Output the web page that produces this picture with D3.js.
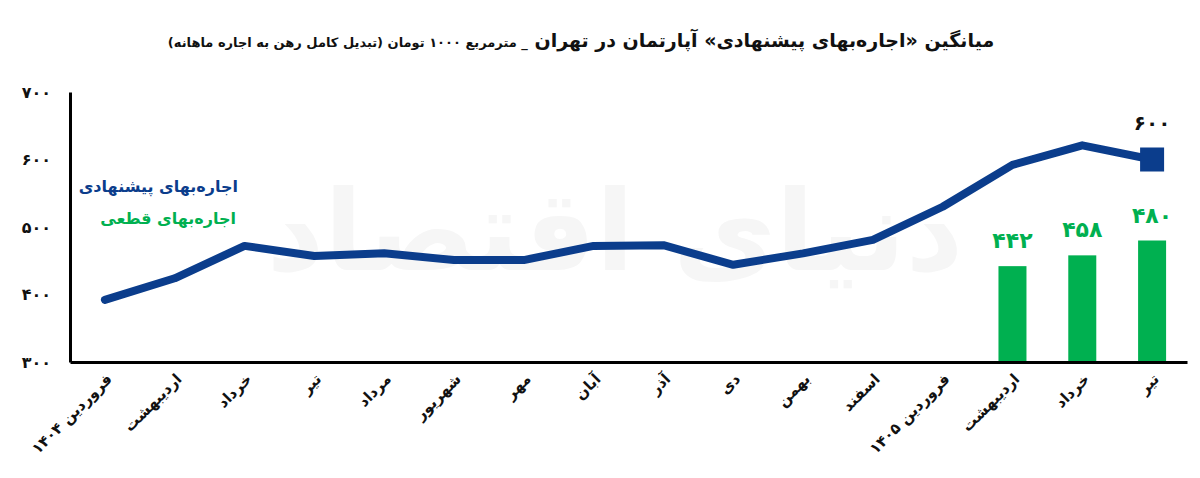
<!DOCTYPE html>
<html>
<head>
<meta charset="utf-8">
<script src="https://cdn.jsdelivr.net/npm/d3@7"></script>
<style>
  body { margin: 0; background: #fff; }
  text { font-family: "DejaVu Sans", sans-serif; font-weight: bold; }
</style>
</head>
<body>
<svg width="1200" height="478"></svg>
<script>
  // months from farvardin 1404 to tir 1405
  const months = ["فروردین ۱۴۰۴", "اردیبهشت", "خرداد", "تیر", "مرداد", "شهریور", "مهر", "آبان",
    "آذر", "دی", "بهمن", "اسفند", "فروردین ۱۴۰۵", "اردیبهشت", "خرداد", "تیر"];
  // asking rent (1000 toman per m2)
  const asking = [392, 424, 472, 457, 461, 451, 451, 472, 473, 444, 461, 481, 530, 592, 621, 600];
  // final rent, only for the last three months
  const finalIdx = [13, 14, 15];
  const finalVals = [442, 458, 480];
  const yTicks = [300, 400, 500, 600, 700];

  const blue = "#0b3d8c";
  const green = "#00b050";

  const fa = (n) => String(n).replace(/\d/g, (d) => "۰۱۲۳۴۵۶۷۸۹"[d]);

  const svg = d3.select("svg");

  const x = d3.scaleBand()
    .domain(d3.range(months.length))
    .range([70, 1187]);

  const y = d3.scaleLinear()
    .domain([300, 700])
    .range([362, 92]);

  // faint logo watermark
  svg.append("text")
    .attr("x", 615).attr("y", 270)
    .attr("text-anchor", "middle")
    .attr("font-size", 112)
    .attr("fill", "#f6f6f6")
    .text("دنیای اقتصاد");

  // title
  const title = svg.append("text")
    .attr("x", 581).attr("y", 47)
    .attr("direction", "rtl")
    .attr("text-anchor", "middle")
    .attr("fill", "#111");
  title.append("tspan").attr("font-size", 19)
    .text("میانگین «اجاره‌بهای پیشنهادی» آپارتمان در تهران ");
  title.append("tspan").attr("font-size", 13)
    .text("_ مترمربع ۱۰۰۰ تومان (تبدیل کامل رهن به اجاره ماهانه)");

  // y axis
  const yAxis = svg.append("g")
    .attr("transform", "translate(70,0)")
    .call(d3.axisLeft(y).tickValues(yTicks).tickFormat(fa).tickSize(0).tickPadding(19));
  yAxis.select(".domain").attr("stroke", "#000").attr("stroke-width", 3);
  yAxis.selectAll("text").attr("font-size", 16).attr("fill", "#111");

  // bars
  svg.selectAll("rect.bar")
    .data(finalVals)
    .enter()
    .append("rect")
    .attr("class", "bar")
    .attr("x", (d, i) => x(finalIdx[i]) + x.bandwidth() / 2 - 14)
    .attr("width", 28)
    .attr("y", (d) => y(d))
    .attr("height", (d) => y(300) - y(d))
    .attr("fill", green);

  svg.selectAll("text.barlabel")
    .data(finalVals)
    .enter()
    .append("text")
    .attr("class", "barlabel")
    .attr("x", (d, i) => x(finalIdx[i]) + x.bandwidth() / 2)
    .attr("y", (d) => y(d) - 18)
    .attr("text-anchor", "middle")
    .attr("font-size", 22)
    .attr("fill", green)
    .text(fa);

  // x axis
  const xAxis = svg.append("g")
    .attr("transform", "translate(0,362)")
    .call(d3.axisBottom(x).tickSize(0).tickFormat(""));
  xAxis.select(".domain").attr("stroke", "#000").attr("stroke-width", 3);

  svg.selectAll("text.month")
    .data(months)
    .enter()
    .append("text")
    .attr("class", "month")
    .attr("transform", (d, i) => `translate(${x(i) + x.bandwidth() / 2 + 8},${380}) rotate(-45)`)
    .attr("text-anchor", "end")
    .attr("font-size", 15)
    .attr("fill", "#111")
    .text((d) => d);

  // asking rent line
  const line = d3.line()
    .x((d, i) => x(i) + x.bandwidth() / 2)
    .y((d) => y(d));

  svg.append("path")
    .datum(asking)
    .attr("d", line)
    .attr("fill", "none")
    .attr("stroke", blue)
    .attr("stroke-width", 8)
    .attr("stroke-linecap", "round")
    .attr("stroke-linejoin", "round");

  const last = asking.length - 1;
  svg.append("rect")
    .attr("x", x(last) + x.bandwidth() / 2 - 12)
    .attr("y", y(asking[last]) - 12)
    .attr("width", 24)
    .attr("height", 24)
    .attr("fill", blue);

  svg.append("text")
    .attr("x", x(last) + x.bandwidth() / 2)
    .attr("y", y(asking[last]) - 30)
    .attr("text-anchor", "middle")
    .attr("font-size", 20)
    .attr("fill", "#111")
    .text(fa(asking[last]));

  // legend
  svg.append("text")
    .attr("x", 238).attr("y", 192)
    .attr("text-anchor", "end")
    .attr("font-size", 16)
    .attr("fill", blue)
    .text("اجاره‌بهای پیشنهادی");
  svg.append("text")
    .attr("x", 236).attr("y", 224)
    .attr("text-anchor", "end")
    .attr("font-size", 16)
    .attr("fill", green)
    .text("اجاره‌بهای قطعی");
</script>
</body>
</html>
